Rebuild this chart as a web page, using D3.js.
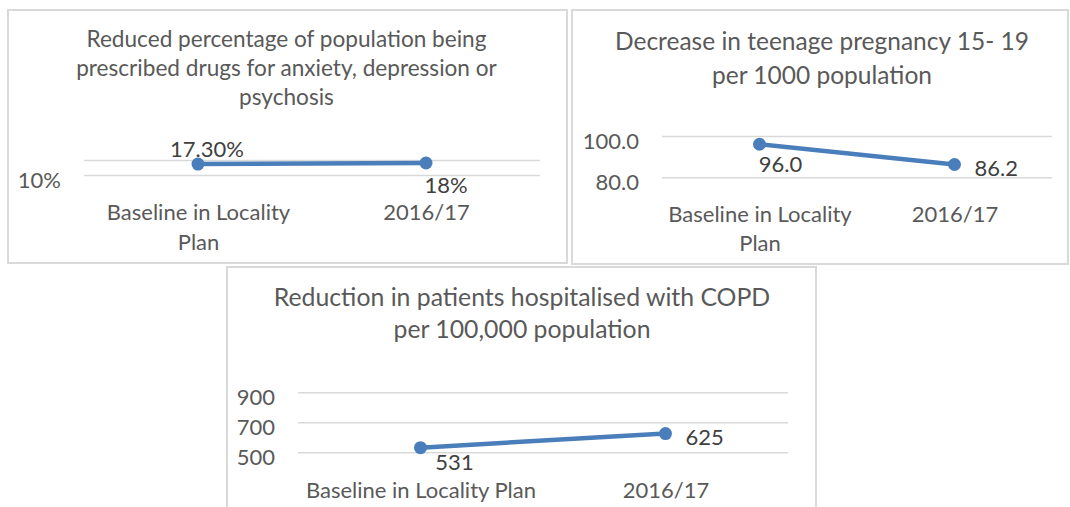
<!DOCTYPE html>
<html>
<head>
<meta charset="utf-8">
<script src="https://cdn.jsdelivr.net/npm/d3@7"></script>
<style>
  body { margin: 0; background: #fff; }
  text { font-family: Lato, "Liberation Sans", sans-serif; }
</style>
</head>
<body>
<svg id="chart" width="1070" height="507"></svg>
<script>
// ---- data ----
var categories = ["Baseline in Locality Plan", "2016/17"];

var drugsTitle = ["Reduced percentage of population being",
                  "prescribed drugs for anxiety, depression or",
                  "psychosis"];
var drugsValues = [0.173, 0.18];
var drugsLabels = ["17.30%", "18%"];
var drugsTicks = [0.10, 0.20];
var drugsTickLabels = ["10%", ""];

var pregTitle = ["Decrease in teenage pregnancy 15- 19", "per 1000 population"];
var pregValues = [96.0, 86.2];
var pregLabels = ["96.0", "86.2"];
var pregTicks = [80, 100];
var pregTickLabels = ["80.0", "100.0"];

var copdTitle = ["Reduction in patients hospitalised with COPD", "per 100,000 population"];
var copdValues = [531, 625];
var copdLabels = ["531", "625"];
var copdTicks = [500, 700, 900];
var copdTickLabels = ["500", "700", "900"];

// ---- colours ----
var lineColor = "#4a7ebb",
    gridColor = "#d9d9d9",
    textColor = "#595959",
    labelColor = "#404040";

var svg = d3.select("#chart");

// one chart box per indicator
var panels = [
  { title: drugsTitle, values: drugsValues, labels: drugsLabels,
    ticks: drugsTicks, tickLabels: drugsTickLabels,
    box: {x: 8, y: 10, w: 559, h: 253},
    plot: {left: 84, right: 540, top: 160, bottom: 175},
    titleX: 286.5, titleY: 46.7, titleLine: 29.3, titleSize: 22.6,
    catY: 220, catLine: 30,
    offsets: [{dx: 9, dy: -6.7, anchor: "middle"}, {dx: 20, dy: 29.6, anchor: "middle"}] },
  { title: pregTitle, values: pregValues, labels: pregLabels,
    ticks: pregTicks, tickLabels: pregTickLabels,
    box: {x: 572, y: 10, w: 496, h: 254},
    plot: {left: 662, right: 1052, top: 136, bottom: 177.3},
    titleX: 822, titleY: 50, titleLine: 34.3, titleSize: 24.5,
    catY: 221.7, catLine: 29,
    offsets: [{dx: 21, dy: 28, anchor: "middle"}, {dx: 20, dy: 11.7, anchor: "start"}] },
  { title: copdTitle, values: copdValues, labels: copdLabels,
    ticks: copdTicks, tickLabels: copdTickLabels,
    box: {x: 227, y: 267, w: 589, h: 260},
    plot: {left: 298, right: 788, top: 392.3, bottom: 452.3},
    titleX: 522, titleY: 306, titleLine: 32.3, titleSize: 24.8,
    catY: 497.7, catLine: 30,
    offsets: [{dx: 34, dy: 22.3, anchor: "middle"}, {dx: 20, dy: 11.4, anchor: "start"}] }
];

panels.forEach(drawPanel);

function drawPanel(p) {
  var g = svg.append("g");

  // chart frame
  g.append("rect")
      .attr("x", p.box.x).attr("y", p.box.y)
      .attr("width", p.box.w).attr("height", p.box.h)
      .attr("fill", "#fff")
      .attr("stroke", gridColor)
      .attr("stroke-width", 2);

  // title
  var title = g.append("text")
      .attr("text-anchor", "middle")
      .attr("fill", textColor)
      .style("font-size", p.titleSize + "px");
  p.title.forEach(function(line, i) {
    title.append("tspan")
        .attr("x", p.titleX)
        .attr("y", p.titleY + i * p.titleLine)
        .text(line);
  });

  // scales
  var x = d3.scalePoint()
      .domain(categories)
      .range([p.plot.left, p.plot.right])
      .padding(0.5);
  var y = d3.scaleLinear()
      .domain(d3.extent(p.ticks))
      .range([p.plot.bottom, p.plot.top]);

  // y axis with gridlines
  var yAxis = g.append("g")
      .attr("transform", "translate(" + p.plot.left + ",0)")
      .call(d3.axisLeft(y)
          .tickValues(p.ticks)
          .tickFormat(function(d, i) { return p.tickLabels[i]; })
          .tickSizeInner(-(p.plot.right - p.plot.left))
          .tickSizeOuter(0)
          .tickPadding(23));
  yAxis.select(".domain").remove();
  yAxis.selectAll("line")
      .attr("stroke", gridColor)
      .attr("stroke-width", 1.6);
  yAxis.selectAll("text")
      .attr("fill", textColor)
      .attr("dy", "0.32em")
      .attr("y", 5)
      .style("font-size", "22px")
      .style("font-family", null);

  // x axis category labels
  var xAxis = g.append("g")
      .attr("transform", "translate(0," + p.catY + ")")
      .call(d3.axisBottom(x).tickSize(0));
  xAxis.select(".domain").remove();
  xAxis.selectAll("text")
      .attr("fill", textColor)
      .attr("y", 0)
      .attr("dy", 0)
      .style("font-size", "22px")
      .style("font-family", null)
      .call(wrap, x.step() - 8, p.catLine);

  // series line and markers
  var line = d3.line()
      .x(function(d, i) { return x(categories[i]); })
      .y(function(d) { return y(d); });

  g.append("path")
      .datum(p.values)
      .attr("fill", "none")
      .attr("stroke", lineColor)
      .attr("stroke-width", 4.5)
      .attr("d", line);

  g.selectAll(".dot")
      .data(p.values)
      .enter().append("circle")
      .attr("class", "dot")
      .attr("cx", function(d, i) { return x(categories[i]); })
      .attr("cy", function(d) { return y(d); })
      .attr("r", 6.5)
      .attr("fill", lineColor);

  // data labels
  g.selectAll(".lbl")
      .data(p.values)
      .enter().append("text")
      .attr("class", "lbl")
      .attr("x", function(d, i) { return x(categories[i]) + p.offsets[i].dx; })
      .attr("y", function(d, i) { return y(d) + p.offsets[i].dy; })
      .attr("text-anchor", function(d, i) { return p.offsets[i].anchor; })
      .attr("fill", labelColor)
      .style("font-size", "22px")
      .text(function(d, i) { return p.labels[i]; });
}

// wrap category text into lines that fit the band
function wrap(texts, width, lineHeight) {
  texts.each(function() {
    var text = d3.select(this),
        words = text.text().split(/\s+/),
        line = [],
        lineNo = 0,
        tspan = text.text(null).append("tspan").attr("x", 0).attr("y", 0);
    words.forEach(function(word) {
      line.push(word);
      tspan.text(line.join(" "));
      if (tspan.node().getComputedTextLength() > width && line.length > 1) {
        line.pop();
        tspan.text(line.join(" "));
        line = [word];
        lineNo++;
        tspan = text.append("tspan")
            .attr("x", 0)
            .attr("y", lineNo * lineHeight)
            .text(word);
      }
    });
  });
}
</script>
</body>
</html>
